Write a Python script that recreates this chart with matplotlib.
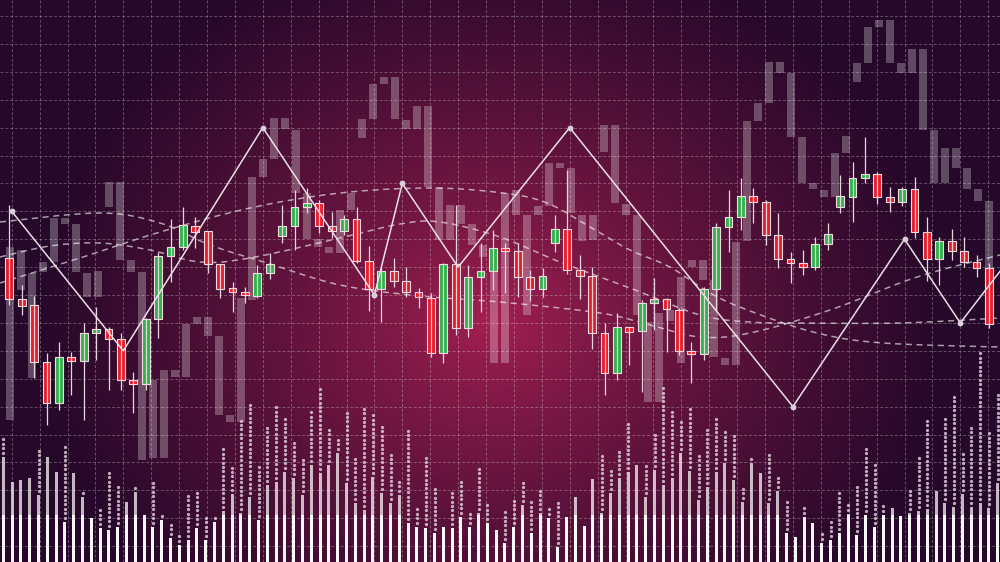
import numpy as np
import matplotlib
matplotlib.use("Agg")
import matplotlib.pyplot as plt

W, H = 1000, 562

# main candles (screen depth units, smaller = higher price)
body_top = [258, 299, 305, 362, 357, 357, 333, 329, 329, 339,
            380, 319, 256, 247, 225, 226, 231, 264, 288, 292,
            273, 264, 226, 207, 203, 203, 226, 219, 219, 261,
            271, 271, 281, 292, 298, 264, 264, 277, 271, 248,
            248, 251, 277, 276, 229, 229, 270, 276, 333, 327,
            327, 303, 299, 299, 310, 351, 289, 227, 217, 196,
            196, 202, 235, 259, 263, 244, 234, 196, 178, 174,
            174, 197, 189, 189, 232, 241, 241, 251, 262, 268]
body_bot = [299, 306, 362, 403, 403, 361, 361, 333, 339, 380,
            384, 384, 319, 256, 247, 232, 264, 289, 292, 295,
            296, 273, 236, 226, 207, 226, 231, 231, 261, 289,
            289, 281, 292, 297, 353, 353, 328, 328, 277, 271,
            251, 277, 289, 289, 243, 270, 276, 333, 373, 373,
            332, 331, 303, 309, 351, 354, 354, 289, 227, 217,
            202, 235, 259, 263, 267, 267, 244, 207, 197, 178,
            197, 202, 202, 232, 259, 259, 251, 262, 268, 324]
wick_hi = [205, 285, 296, 353, 342, 352, 323, 307, 327, 333,
           372, 318, 252, 219, 207, 217, 231, 264, 282, 287,
           265, 253, 205, 190, 188, 200, 212, 215, 207, 246,
           267, 258, 267, 288, 293, 263, 205, 265, 243, 230,
           243, 243, 270, 268, 215, 170, 255, 267, 323, 313,
           327, 300, 278, 298, 308, 342, 287, 223, 190, 178,
           188, 200, 213, 252, 250, 237, 223, 175, 162, 137,
           172, 187, 187, 177, 217, 237, 229, 237, 255, 263]
wick_lo = [305, 315, 378, 425, 410, 395, 420, 360, 390, 390,
           413, 390, 338, 282, 250, 248, 273, 298, 312, 303,
           298, 279, 243, 250, 213, 233, 238, 235, 263, 311,
           322, 287, 297, 308, 357, 363, 335, 337, 312, 290,
           293, 297, 301, 297, 252, 274, 299, 349, 395, 380,
           365, 392, 330, 352, 355, 383, 360, 310, 252, 230,
           223, 245, 268, 283, 275, 270, 250, 213, 222, 183,
           204, 212, 206, 238, 281, 285, 260, 267, 277, 328]
candle_dir = ("RRRRGRGGRR" "RGGGGRRRRR" "GGGGGRRGRR" "GRRRRGRGGG"
              "RRRGGRRRRG" "RGGRRRGGGG" "RRRRRGGGGG" "RRGRRGRRRR")

# faded background candles (top, bottom)
ghost_top = [247, 250, 273, 262, 218, 218, 224, 273, 271, 182,
             182, 260, 272, 380, 370, 370, 324, 317, 317, 336,
             415, 298, 177, 159, 118, 118, 130, 193, 239, 247,
             210, 193, 119, 84, 77, 77, 120, 106, 106, 187,
             205, 205, 224, 245, 270, 193, 190, 215, 206, 163,
             163, 168, 215, 215, 125, 125, 204, 215, 322, 313,
             310, 277, 260, 260, 280, 358, 242, 121, 103, 62,
             62, 73, 137, 183, 190, 153, 136, 63, 27, 20,
             20, 63, 49, 49, 130, 148, 148, 168, 189, 201]
ghost_bot = [420, 290, 378, 272, 262, 224, 272, 297, 297, 207,
             260, 272, 460, 458, 458, 377, 377, 324, 336, 415,
             422, 422, 300, 177, 159, 129, 193, 239, 247, 253,
             253, 210, 138, 119, 84, 119, 129, 129, 187, 240,
             240, 224, 245, 257, 363, 363, 215, 315, 215, 206,
             168, 213, 241, 240, 152, 203, 215, 315, 402, 402,
             321, 363, 267, 280, 357, 365, 365, 241, 121, 103,
             73, 137, 183, 189, 197, 197, 153, 82, 63, 27,
             63, 73, 73, 130, 183, 183, 168, 189, 201, 270]

# volume columns: solid bar top, dotted column top
vol_top = [457, 482, 480, 478, 495, 457, 472, 522, 473, 497,
           518, 528, 530, 527, 502, 492, 515, 527, 520, 538,
           545, 540, 528, 540, 522, 511, 494, 513, 497, 520,
           485, 482, 472, 478, 495, 465, 473, 465, 453, 483,
           503, 510, 477, 493, 503, 495, 523, 527, 528, 533,
           527, 528, 517, 527, 513, 523, 530, 543, 527, 505,
           533, 513, 518, 547, 517, 497, 526, 479, 513, 493,
           478, 472, 465, 497, 470, 485, 478, 453, 471, 500,
           487, 472, 463, 480, 502, 463, 473, 503, 491, 533,
           537, 517, 523, 543, 540, 533, 514, 535, 515, 527,
           515, 508, 516, 513, 511, 509, 491, 503, 507, 494,
           507, 503, 508, 483]
dot_top = [437, 482, 480, 478, 452, 457, 472, 447, 473, 493,
           518, 508, 473, 488, 502, 487, 515, 483, 513, 523,
           533, 497, 490, 519, 515, 449, 468, 418, 403, 465,
           428, 407, 417, 442, 460, 413, 387, 427, 437, 413,
           458, 406, 415, 428, 452, 482, 428, 507, 455, 487,
           527, 490, 480, 513, 469, 503, 530, 513, 499, 480,
           503, 488, 509, 503, 517, 497, 526, 479, 454, 468,
           451, 423, 465, 466, 434, 387, 409, 421, 410, 453,
           427, 417, 432, 437, 488, 459, 473, 453, 478, 500,
           537, 506, 523, 533, 523, 493, 503, 484, 447, 463,
           503, 508, 516, 489, 456, 418, 491, 417, 394, 453,
           427, 352, 432, 394]

# zigzag, in grid cells
zz_x = [0, 4, 9, 13, 14, 16, 20, 28, 32, 34, 36]
zz_y = [7, 12, 4, 10, 6, 9, 4, 14, 8, 11, 8.4]

# dashed moving-average curves
ma1_x = [0, 100, 160, 210, 267, 340, 420, 500, 600, 650, 700, 750, 830, 917, 1000]
ma1_y = [222, 213, 223, 245, 263, 285, 296, 302, 313, 325, 337, 333, 310, 277, 255]
ma2_x = [0, 50, 100, 150, 200, 250, 340, 400, 440, 500, 560, 630, 700, 750, 800, 900, 1000]
ma2_y = [257, 246, 243, 250, 262, 258, 238, 224, 222, 237, 262, 288, 315, 322, 323, 323, 318]
ma3_x = [0, 80, 160, 250, 340, 430, 503, 547, 590, 630, 670, 710, 750, 817, 883, 1000]
ma3_y = [283, 258, 232, 208, 193, 188, 193, 203, 227, 250, 267, 293, 311, 333, 343, 347]


def catmull(xs, ys, n=24):
    p = np.column_stack([xs, ys]).astype(float)
    p = np.vstack([p[0], p, p[-1]])
    out = []
    for i in range(1, len(p) - 2):
        p0, p1, p2, p3 = p[i - 1], p[i], p[i + 1], p[i + 2]
        t = np.linspace(0, 1, n, endpoint=False)[:, None]
        seg = 0.5 * ((2 * p1) + (-p0 + p2) * t + (2 * p0 - 5 * p1 + 4 * p2 - p3) * t ** 2
                     + (-p0 + 3 * p1 - 3 * p2 + p3) * t ** 3)
        out.append(seg)
    out.append(p[-2][None, :])
    out = np.vstack(out)
    return out[:, 0], out[:, 1]


fig = plt.figure(figsize=(10, 5.62), dpi=100)


def layer(xlim, ylim):
    a = fig.add_axes([0, 0, 1, 1])
    a.set_xlim(*xlim)
    a.set_ylim(*ylim)
    a.axis("off")
    a.patch.set_alpha(0)
    return a


# background glow
ax_bg = layer((0, W), (H, 0))
yy, xx = np.mgrid[0:H, 0:W]
r = np.sqrt(((xx - 490) / 450.0) ** 2 + ((yy - 320) / 390.0) ** 2)
t = np.clip(r, 0, 1) ** 0.8
c_in = np.array([166, 32, 82]) / 255.0
c_out = np.array([38, 8, 42]) / 255.0
img = c_in * (1 - t)[..., None] + c_out * t[..., None]
ax_bg.imshow(img, extent=(0, W, H, 0), aspect="auto")

# grid (one cell = 27.9 px)
cell, gx0, gy0 = 27.9, 11.7, 16.0
grid_xlim = (-gx0 / cell, (W - gx0) / cell)
grid_ylim = ((H - gy0) / cell, -gy0 / cell)
ax_grid = layer(grid_xlim, grid_ylim)
ax_grid.vlines(np.arange(0, 36), grid_ylim[1], grid_ylim[0], colors="white",
               alpha=0.28, lw=0.7, linestyles=(0, (3, 2)))
ax_grid.hlines(np.arange(0, 20), grid_xlim[0], grid_xlim[1], colors="white",
               alpha=0.28, lw=0.7, linestyles=(0, (3, 2)))

# ghost candles
ax_g = layer((-10 / 11.0, (W - 10) / 11.0), (H, 0))
gt = np.array(ghost_top)
gb = np.array(ghost_bot)
ax_g.bar(np.arange(len(gt)), gb - gt, bottom=gt, width=0.64, color="white", alpha=0.27, lw=0)

# dashed curves
ax_px = layer((0, W), (H, 0))
for cx, cy in [(ma1_x, ma1_y), (ma2_x, ma2_y), (ma3_x, ma3_y)]:
    sx, sy = catmull(cx, cy)
    ax_px.plot(sx, sy, color="white", alpha=0.6, lw=1.1, ls=(0, (4, 3)))

# volume
ax_v = layer((-3.3 / 8.8, (W - 3.3) / 8.8), (H, 0))
vt = np.array(vol_top)
dots_x, dots_y = [], []
for i, (bt, dt) in enumerate(zip(vol_top, dot_top)):
    ys = np.arange(bt - 4.4, dt - 1, -4.4)
    dots_x += [i] * len(ys)
    dots_y += list(ys)
ax_v.scatter(dots_x, dots_y, s=5.5, color="#dccbd8", alpha=0.85, lw=0)
xi = np.arange(len(vt))
ax_v.bar(xi, H - vt, bottom=vt, width=0.36, color="white", alpha=0.72, lw=0)
low = np.maximum(vt, 515)
ax_v.bar(xi, H - low, bottom=low, width=0.36, color="white", alpha=0.9, lw=0)

# candles
ax_c = layer((-9.3 / 12.4, (W - 9.3) / 12.4), (H, 0))
for i in range(len(body_top)):
    ax_c.vlines(i, wick_hi[i], wick_lo[i], colors="#e6d6de", lw=0.9)
    col = "#ea1c2b" if candle_dir[i] == "R" else "#2fb44b"
    ax_c.bar(i, max(body_bot[i] - body_top[i], 3), bottom=body_top[i], width=0.64,
             color=col, edgecolor="#f3dbe1", lw=0.8)

# zigzag
ax_z = layer(grid_xlim, grid_ylim)
ax_z.plot(zz_x, zz_y, color="#eadfe6", lw=1.1, marker="o", ms=4.2,
          markerfacecolor="#d9d0d8", markeredgewidth=0, markevery=[0, 2, 3, 4, 6, 7, 8, 9])

fig.savefig("out.png", dpi=100)
